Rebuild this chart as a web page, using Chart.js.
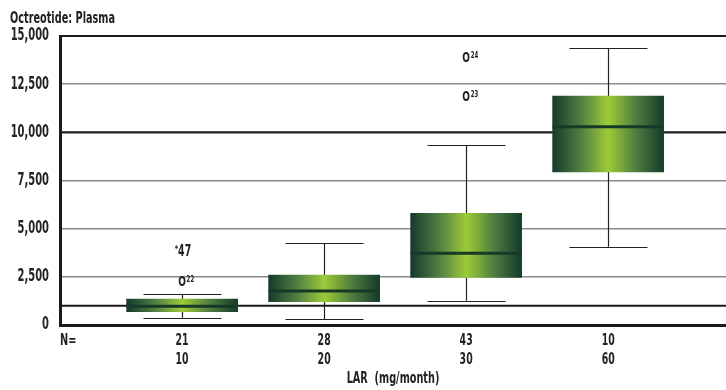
<!DOCTYPE html>
<html lang="en">
<head>
    <meta charset="UTF-8">
    <title>Octreotide: Plasma</title>
    <script src="https://cdn.jsdelivr.net/npm/chart.js"></script>
    <style>
        html, body { margin: 0; padding: 0; background: #fff; }
        #wrap { width: 726px; height: 390px; position: relative; }
    </style>
</head>
<body>
    <div id="wrap"><canvas id="boxChart"></canvas></div>

    <script>
        // group labels: N on the first line, LAR dose on the second
        const groupN = ['21', '28', '43', '10'];
        const groupDose = ['10', '20', '30', '60'];

        // box plot statistics per group
        const whiskerLow = [380, 310, 1260, 4060];
        const q1 = [690, 1210, 2470, 7950];
        const median = [970, 1760, 3720, 10290];
        const q3 = [1350, 2590, 5790, 11880];
        const whiskerHigh = [1590, 4240, 9340, 14380];

        // outliers: group index, value, symbol, case id
        const outlierGroup = [0, 0, 2, 2];
        const outlierValue = [2230, 3790, 11840, 13860];
        const outlierSymbol = ['O', '*', 'O', 'O'];
        const outlierCase = ['22', '47', '23', '24'];

        // reference lines
        const refLines = [1000, 10000];

        const FONT = "'DejaVu Sans Condensed', 'DejaVu Sans', sans-serif";
        const BOX_W = 111;
        const CAP_W = 78;

        const boxData = q1.map((v, i) => ({ x: i, y: [v, q3[i]] }));

        // condensed text: the original uses a very narrow face
        function drawText(ctx, text, x, y, size, sx, align, weight) {
            ctx.save();
            ctx.font = (weight || 'bold') + ' ' + size + 'px ' + FONT;
            ctx.textAlign = align;
            ctx.translate(x, y);
            ctx.scale(sx, 1);
            ctx.fillText(text, 0, 0);
            ctx.restore();
        }

        function boxGradient(context) {
            const chart = context.chart;
            if (!chart.chartArea) return '#5a8a3a';
            const cx = chart.scales.x.getPixelForValue(context.dataIndex);
            const g = chart.ctx.createLinearGradient(cx - BOX_W / 2, 0, cx + BOX_W / 2, 0);
            g.addColorStop(0, '#153b2a');
            g.addColorStop(0.25, '#4f7d41');
            g.addColorStop(0.5, '#9ecb38');
            g.addColorStop(0.75, '#4f7d41');
            g.addColorStop(1, '#153b2a');
            return g;
        }

        const boxExtras = {
            id: 'boxExtras',
            beforeDatasetsDraw(chart) {
                const { ctx, chartArea, scales: { x, y } } = chart;
                ctx.save();
                // whiskers
                ctx.strokeStyle = '#222';
                ctx.lineWidth = 1.2;
                q1.forEach((_, i) => {
                    const cx = Math.round(x.getPixelForValue(i)) + 0.5;
                    ctx.beginPath();
                    ctx.moveTo(cx, y.getPixelForValue(whiskerHigh[i]));
                    ctx.lineTo(cx, y.getPixelForValue(q3[i]));
                    ctx.moveTo(cx, y.getPixelForValue(q1[i]));
                    ctx.lineTo(cx, y.getPixelForValue(whiskerLow[i]));
                    ctx.stroke();
                    [whiskerHigh[i], whiskerLow[i]].forEach(v => {
                        const py = Math.round(y.getPixelForValue(v)) + 0.5;
                        ctx.beginPath();
                        ctx.moveTo(cx - CAP_W / 2, py);
                        ctx.lineTo(cx + CAP_W / 2, py);
                        ctx.stroke();
                    });
                });
                // reference lines
                ctx.strokeStyle = '#1a1a1a';
                ctx.lineWidth = 2;
                refLines.forEach(v => {
                    const py = y.getPixelForValue(v);
                    ctx.beginPath();
                    ctx.moveTo(chartArea.left, py);
                    ctx.lineTo(chartArea.right, py);
                    ctx.stroke();
                });
                ctx.restore();
            },
            afterDatasetsDraw(chart) {
                const { ctx, chartArea, scales: { x, y } } = chart;
                ctx.save();
                // medians
                ctx.strokeStyle = '#163a27';
                ctx.lineWidth = 3;
                median.forEach((v, i) => {
                    const cx = x.getPixelForValue(i);
                    const py = y.getPixelForValue(v);
                    ctx.beginPath();
                    ctx.moveTo(cx - BOX_W / 2, py);
                    ctx.lineTo(cx + BOX_W / 2, py);
                    ctx.stroke();
                });

                ctx.fillStyle = '#222';
                // outliers
                outlierValue.forEach((v, k) => {
                    const cx = x.getPixelForValue(outlierGroup[k]);
                    const py = y.getPixelForValue(v);
                    if (outlierSymbol[k] === 'O') {
                        ctx.textBaseline = 'middle';
                        drawText(ctx, 'O', cx, py, 14, 0.72, 'center');
                        ctx.textBaseline = 'top';
                        drawText(ctx, outlierCase[k], cx + 4.5, py - 6, 8, 0.75, 'left');
                    } else {
                        ctx.textBaseline = 'top';
                        drawText(ctx, '*', cx - 4, py - 7, 9, 0.8, 'right');
                        ctx.textBaseline = 'middle';
                        drawText(ctx, outlierCase[k], cx - 4, py, 16, 0.65, 'left');
                    }
                });

                // y tick labels
                ctx.textBaseline = 'middle';
                y.ticks.forEach(t => {
                    drawText(ctx, t.value.toLocaleString('en-US'), chartArea.left - 11,
                        y.getPixelForValue(t.value), 17, 0.65, 'right');
                });

                // x tick labels (N and dose)
                x.ticks.forEach(t => {
                    const px = x.getPixelForValue(t.value);
                    drawText(ctx, groupN[t.value], px, chartArea.bottom + 16, 16, 0.65, 'center');
                    drawText(ctx, groupDose[t.value], px, chartArea.bottom + 35, 16, 0.65, 'center');
                });
                drawText(ctx, 'N=', chartArea.left, chartArea.bottom + 16, 16, 0.68, 'left');

                // axis title and chart title
                drawText(ctx, 'LAR  (mg/month)', (chartArea.left + chartArea.right) / 2,
                    chartArea.bottom + 54, 15, 0.72, 'center');
                ctx.textBaseline = 'alphabetic';
                drawText(ctx, 'Octreotide: Plasma', 10, 23, 15, 0.72, 'left');
                ctx.restore();
            }
        };

        const ctx = document.getElementById('boxChart').getContext('2d');
        new Chart(ctx, {
            type: 'bar',
            data: {
                datasets: [{
                    data: boxData,
                    backgroundColor: boxGradient,
                    borderWidth: 0,
                    barThickness: BOX_W
                }]
            },
            options: {
                responsive: true,
                maintainAspectRatio: false,
                animation: false,
                layout: { padding: { top: 36, right: 0, bottom: 0, left: 0 } },
                plugins: { legend: { display: false }, tooltip: { enabled: false } },
                scales: {
                    x: {
                        type: 'linear',
                        offset: false,
                        min: -0.86,
                        max: 3.83,
                        afterBuildTicks: scale => {
                            scale.ticks = groupN.map((_, i) => ({ value: i }));
                        },
                        afterFit: scale => { scale.height = 65; },
                        grid: { display: false },
                        border: { width: 3, color: '#1a1a1a' },
                        ticks: { display: false }
                    },
                    y: {
                        min: 0,
                        max: 15000,
                        afterFit: scale => { scale.width = 60; },
                        border: { width: 3, color: '#1a1a1a' },
                        grid: {
                            drawTicks: false,
                            color: c => c.tick.value === 15000 ? '#1a1a1a' : '#8a8a8a',
                            lineWidth: c => c.tick.value === 15000 ? 2 : 1.5
                        },
                        ticks: { stepSize: 2500, display: false }
                    }
                }
            },
            plugins: [boxExtras]
        });
    </script>
</body>
</html>
